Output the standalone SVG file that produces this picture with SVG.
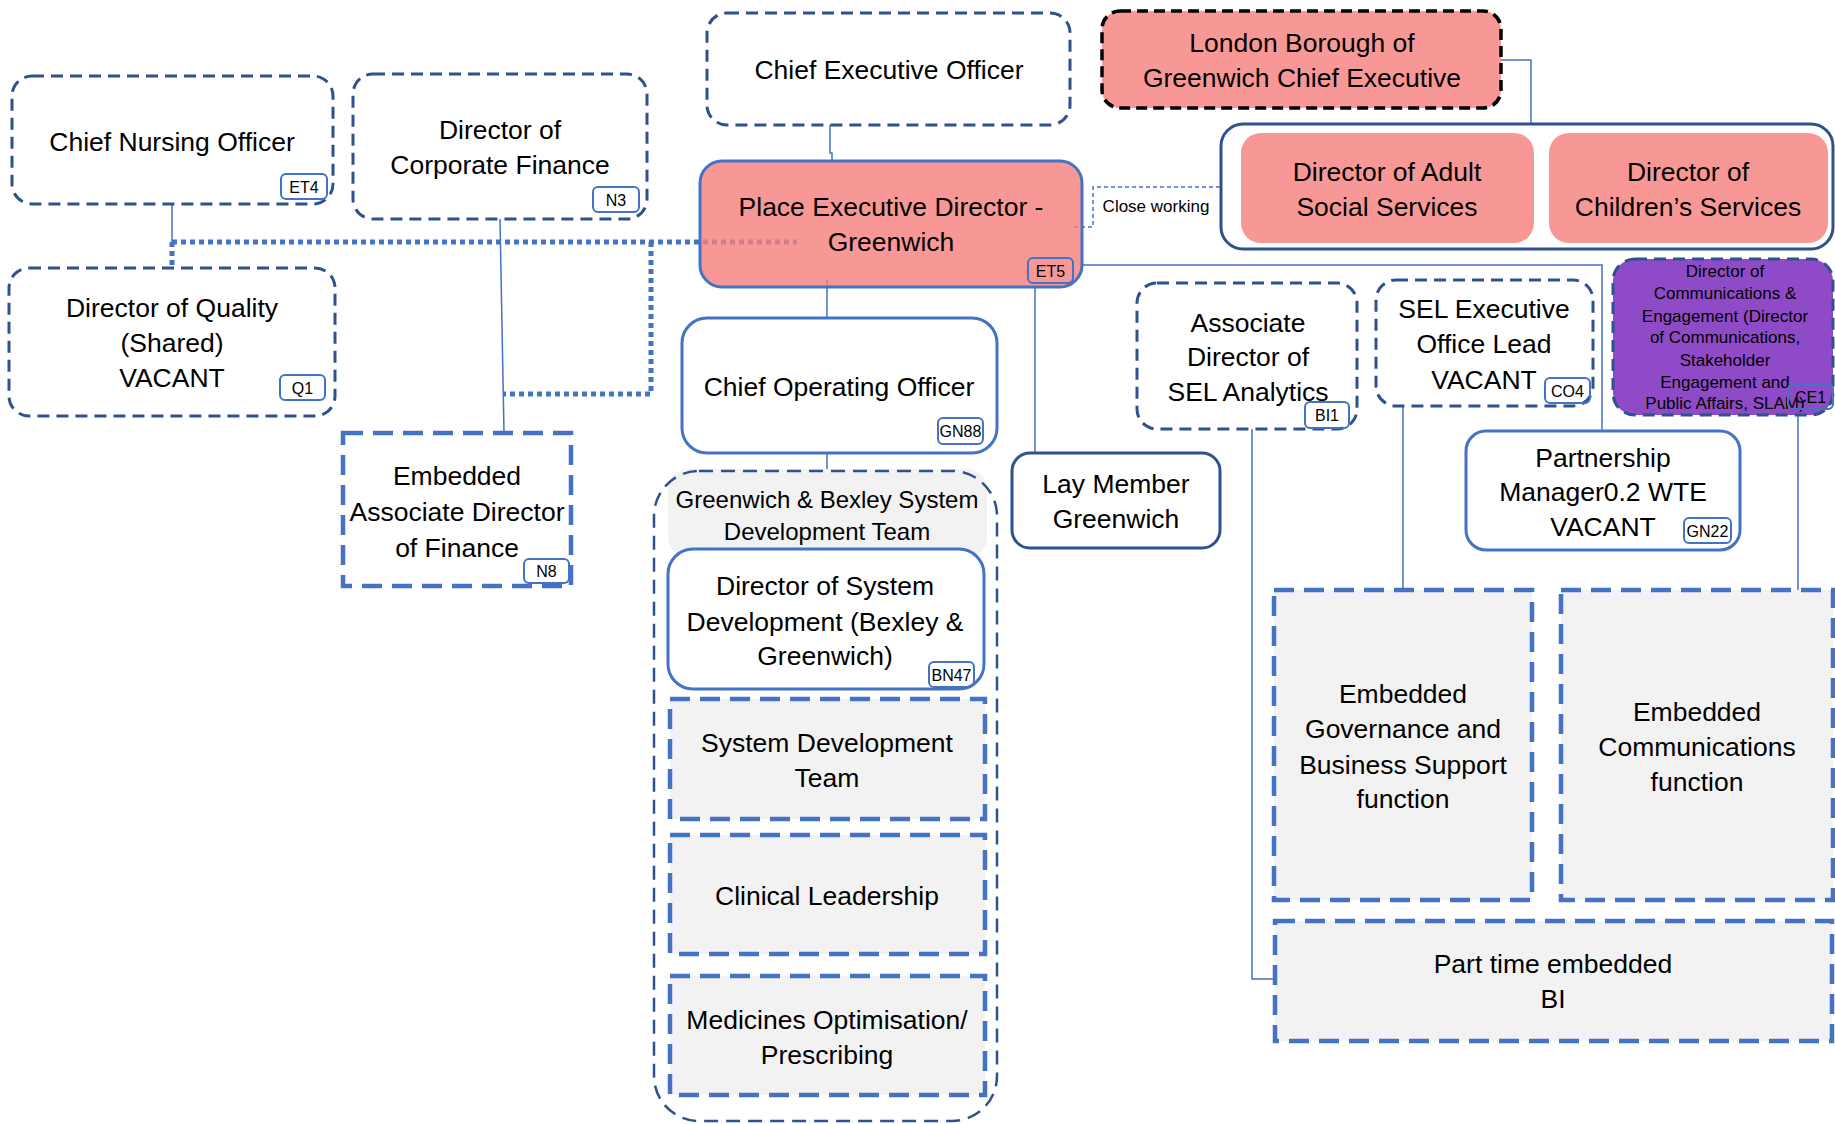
<svg xmlns="http://www.w3.org/2000/svg" width="1835" height="1124" viewBox="0 0 1835 1124">
<style>
.t{font-family:"Liberation Sans",Arial,sans-serif;font-size:26.5px;fill:#000;text-anchor:middle}
.hd{font-size:24px}
.sm{font-size:17px}
.bd{font-size:16px}
.dash{fill:#fff;stroke:#2F528F;stroke-width:3;stroke-dasharray:12 7}
.solid{fill:#fff;stroke:#4472C4;stroke-width:3}
.emb{fill:#F2F2F2;stroke:#4472C4;stroke-width:4.5;stroke-dasharray:20 10}
.badge{fill:none;stroke:#4472C4;stroke-width:2}
.conn{fill:none;stroke:#4472C4;stroke-width:1.5}
.dot{fill:none;stroke:#4472C4;stroke-width:5;stroke-dasharray:5 4}
.thin{fill:none;stroke:#4472C4;stroke-width:1.5;stroke-dasharray:4 3}
.pink{fill:#F89896}
</style>
<rect width="1835" height="1124" fill="#fff"/>
<g id="connectors">
<path class="conn" d="M172,204 V242"/>
<path class="dot" d="M172,242 V268"/>
<path class="dot" d="M172,242 H797"/>
<path class="dot" d="M651,242 V394 H503"/>
<path class="conn" d="M500,219 L504,433"/>
<path class="conn" d="M830,125 V153 H832 V161"/>
<path class="conn" d="M827,280 V318"/>
<path class="conn" d="M827,453 V471"/>
<path class="conn" d="M1035,287 V453"/>
<path class="conn" d="M1082,265 H1602 V431"/>
<path class="conn" d="M1501,60 H1531 V124"/>
<path class="conn" d="M1252,429 V979 H1275"/>
<path class="conn" d="M1403,406 V590"/>
<path class="conn" d="M1798,415 V590"/>
<path class="thin" d="M1074,227 H1093 V187 H1220"/>
</g>
<g id="cno">
<rect class="dash" x="12" y="76" width="321" height="128" rx="20"/>
<text class="t" x="172" y="151">Chief Nursing Officer</text>
<rect class="badge" x="281" y="174" width="46" height="25" rx="5"/>
<text class="t bd" x="304" y="192.5">ET4</text>
</g>
<g id="dcf">
<rect class="dash" x="353" y="74" width="294" height="145" rx="20"/>
<text class="t" x="500" y="139">Director of</text>
<text class="t" x="500" y="174">Corporate Finance</text>
<rect class="badge" x="593" y="187" width="46" height="25" rx="5"/>
<text class="t bd" x="616" y="205.5">N3</text>
</g>
<g id="doq">
<rect class="dash" x="9" y="268" width="326" height="148" rx="20"/>
<text class="t" x="172" y="317">Director of Quality</text>
<text class="t" x="172" y="352">(Shared)</text>
<text class="t" x="172" y="387">VACANT</text>
<rect class="badge" x="280" y="375" width="45" height="25" rx="5"/>
<text class="t bd" x="302.5" y="393.5">Q1</text>
</g>
<g id="ceo">
<rect class="dash" x="707" y="13" width="363" height="112" rx="20"/>
<text class="t" x="889" y="79">Chief Executive Officer</text>
</g>
<g id="lbg">
<rect x="1102" y="11" width="399" height="97" rx="18" class="pink" stroke="#000" stroke-width="3.5" stroke-dasharray="11 6"/>
<text class="t" x="1302" y="52">London Borough of</text>
<text class="t" x="1302" y="87">Greenwich Chief Executive</text>
</g>
<g id="ped">
<rect x="700" y="161" width="382" height="126" rx="22" fill="#F67E7C" fill-opacity="0.8" stroke="#4472C4" stroke-width="3"/>
<text class="t" x="891" y="216">Place Executive Director -</text>
<text class="t" x="891" y="251">Greenwich</text>
<rect class="badge" x="1028" y="258" width="45" height="25" rx="5"/>
<text class="t bd" x="1050.5" y="276.5">ET5</text>
</g>
<g id="close-working">
<text class="t sm" x="1156" y="212">Close working</text>
</g>
<g id="council-directors">
<rect x="1221" y="124" width="612" height="125" rx="22" fill="#fff" stroke="#2F528F" stroke-width="3"/>
<rect class="pink" x="1241" y="133" width="293" height="110" rx="20"/>
<text class="t" x="1387" y="181">Director of Adult</text>
<text class="t" x="1387" y="216">Social Services</text>
<rect class="pink" x="1549" y="133" width="279" height="110" rx="20"/>
<text class="t" x="1688" y="181">Director of</text>
<text class="t" x="1688" y="216">Children’s Services</text>
</g>
<g id="coo">
<rect class="solid" x="682" y="318" width="315" height="135" rx="25"/>
<text class="t" x="839" y="396">Chief Operating Officer</text>
<rect class="badge" x="938" y="418" width="45" height="26" rx="5"/>
<text class="t bd" x="960.5" y="437">GN88</text>
</g>
<g id="assoc-analytics">
<rect class="dash" x="1137" y="283" width="220" height="146" rx="20"/>
<text class="t" x="1248" y="332">Associate</text>
<text class="t" x="1248" y="366">Director of</text>
<text class="t" x="1248" y="401">SEL Analytics</text>
<rect class="badge" x="1305" y="402" width="44" height="26" rx="5"/>
<text class="t bd" x="1327" y="421">BI1</text>
</g>
<g id="sel-exec">
<rect class="dash" x="1376" y="280" width="217" height="126" rx="20"/>
<text class="t" x="1484" y="318">SEL Executive</text>
<text class="t" x="1484" y="353">Office Lead</text>
<text class="t" x="1484" y="389">VACANT</text>
<rect class="badge" x="1545" y="378" width="45" height="25" rx="5"/>
<text class="t bd" x="1567.5" y="396.5">CO4</text>
</g>
<g id="comms-director">
<rect x="1613" y="259" width="220" height="156" rx="22" fill="#8F4BC7" stroke="#2F528F" stroke-width="3" stroke-dasharray="12 7"/>
<text class="t sm" x="1725" y="277">Director of</text>
<text class="t sm" x="1725" y="299">Communications &amp;</text>
<text class="t sm" x="1725" y="322">Engagement (Director</text>
<text class="t sm" x="1725" y="343">of Communications,</text>
<text class="t sm" x="1725" y="366">Stakeholder</text>
<text class="t sm" x="1725" y="388">Engagement and</text>
<text class="t sm" x="1725" y="409">Public Affairs, SLAM)</text>
<rect class="badge" x="1788" y="384" width="45" height="25" rx="5"/>
<text class="t bd" x="1810.5" y="402.5">CE1</text>
</g>
<g id="lay-member">
<rect x="1012" y="453" width="208" height="95" rx="18" fill="#fff" stroke="#2F528F" stroke-width="3"/>
<text class="t" x="1116" y="493">Lay Member</text>
<text class="t" x="1116" y="528">Greenwich</text>
</g>
<g id="partnership-manager">
<rect class="solid" x="1466" y="431" width="274" height="119" rx="20"/>
<text class="t" x="1603" y="467">Partnership</text>
<text class="t" x="1603" y="501">Manager0.2 WTE</text>
<text class="t" x="1603" y="536">VACANT</text>
<rect class="badge" x="1684" y="518" width="47" height="25" rx="5"/>
<text class="t bd" x="1707.5" y="536.5">GN22</text>
</g>
<g id="embedded-finance">
<rect class="emb" x="343" y="433" width="228" height="153" style="fill:#fff"/>
<text class="t" x="457" y="485">Embedded</text>
<text class="t" x="457" y="521">Associate Director</text>
<text class="t" x="457" y="557">of Finance</text>
<rect class="badge" x="524" y="559" width="45" height="24" rx="5"/>
<text class="t bd" x="546.5" y="576.5">N8</text>
</g>
<g id="system-development-team-group">
<rect x="668" y="469" width="319" height="88" rx="20" fill="#F2F2F2"/>
<rect x="654" y="471" width="343" height="650" rx="45" fill="none" stroke="#2F528F" stroke-width="2.5" stroke-dasharray="14 8"/>
<text class="t hd" x="827" y="508">Greenwich &amp; Bexley System</text>
<text class="t hd" x="827" y="540">Development Team</text>
</g>
<g id="director-system-development">
<rect class="solid" x="668" y="549" width="316" height="140" rx="25"/>
<text class="t" x="825" y="595">Director of System</text>
<text class="t" x="825" y="631">Development (Bexley &amp;</text>
<text class="t" x="825" y="665">Greenwich)</text>
<rect class="badge" x="929" y="662" width="45" height="25" rx="5"/>
<text class="t bd" x="951.5" y="680.5">BN47</text>
</g>
<g id="system-development-team">
<rect class="emb" x="670" y="699" width="315" height="120"/>
<text class="t" x="827" y="752">System Development</text>
<text class="t" x="827" y="787">Team</text>
</g>
<g id="clinical-leadership">
<rect class="emb" x="670" y="835" width="315" height="119"/>
<text class="t" x="827" y="905">Clinical Leadership</text>
</g>
<g id="medicines">
<rect class="emb" x="670" y="976" width="315" height="119"/>
<text class="t" x="827" y="1029">Medicines Optimisation/</text>
<text class="t" x="827" y="1064">Prescribing</text>
</g>
<g id="embedded-governance">
<rect class="emb" x="1274" y="590" width="258" height="310"/>
<text class="t" x="1403" y="703">Embedded</text>
<text class="t" x="1403" y="738">Governance and</text>
<text class="t" x="1403" y="774">Business Support</text>
<text class="t" x="1403" y="808">function</text>
</g>
<g id="embedded-comms">
<rect class="emb" x="1561" y="590" width="272" height="310"/>
<text class="t" x="1697" y="721">Embedded</text>
<text class="t" x="1697" y="756">Communications</text>
<text class="t" x="1697" y="791">function</text>
</g>
<g id="part-time-bi">
<rect class="emb" x="1275" y="921" width="557" height="120"/>
<text class="t" x="1553" y="973">Part time embedded</text>
<text class="t" x="1553" y="1008">BI</text>
</g>
</svg>
